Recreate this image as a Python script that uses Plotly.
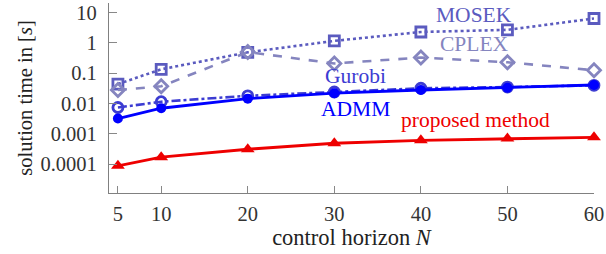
import plotly.graph_objects as go

N = [5, 10, 20, 30, 40, 50, 60]
mosek = [0.044, 0.135, 0.49, 1.17, 2.3, 2.7, 6.4]
cplex = [0.028, 0.037, 0.5, 0.21, 0.33, 0.23, 0.125]
gurobi = [0.0074, 0.0115, 0.018, 0.024, 0.032, 0.035, 0.04]
admm = [0.0032, 0.007, 0.0145, 0.022, 0.028, 0.033, 0.041]
proposed = [0.000088, 0.00017, 0.00031, 0.00049, 0.00061, 0.0007, 0.00077]

ytickvals = [0.0001, 0.001, 0.01, 0.1, 1, 10]
yticktext = ["0.0001", "0.001", "0.01", "0.1", "1", "10"]
xtickvals = [5, 10, 20, 30, 40, 50, 60]

C_MOSEK = "#5b5bbf"
C_CPLEX = "#8585bf"
C_GUROBI = "#3c3cd2"
C_ADMM = "#0000ff"
C_PROP = "#ee0000"

FONT = "Liberation Serif"

fig = go.Figure()
fig.add_trace(go.Scatter(x=N, y=mosek, mode="lines+markers", cliponaxis=False,
    line=dict(color=C_MOSEK, width=2.6, dash="dot"),
    marker=dict(symbol="square-open", size=10, color=C_MOSEK, line=dict(width=2.8, color=C_MOSEK))))
fig.add_trace(go.Scatter(x=N, y=cplex, mode="lines+markers", cliponaxis=False,
    line=dict(color=C_CPLEX, width=2.6, dash="dash"),
    marker=dict(symbol="diamond-open", size=10, color=C_CPLEX, line=dict(width=2.8, color=C_CPLEX))))
fig.add_trace(go.Scatter(x=N, y=gurobi, mode="lines+markers", cliponaxis=False,
    line=dict(color=C_GUROBI, width=2.6, dash="dashdot"),
    marker=dict(symbol="circle-open", size=10, color=C_GUROBI, line=dict(width=2.8, color=C_GUROBI))))
fig.add_trace(go.Scatter(x=N, y=admm, mode="lines+markers", cliponaxis=False,
    line=dict(color=C_ADMM, width=2.8),
    marker=dict(symbol="circle", size=10, color=C_ADMM)))
fig.add_trace(go.Scatter(x=N, y=proposed, mode="lines+markers", cliponaxis=False,
    line=dict(color=C_PROP, width=2.8),
    marker=dict(symbol="triangle-up", size=12, color=C_PROP)))

labels = [
    ("MOSEK", 0.753, 0.937, C_MOSEK),
    ("CPLEX", 0.753, 0.785, C_CPLEX),
    ("Gurobi", 0.509, 0.618, C_GUROBI),
    ("ADMM", 0.509, 0.44, C_ADMM),
    ("proposed method", 0.755, 0.382, C_PROP),
]
for t, x, y, c in labels:
    fig.add_annotation(text=t, x=x, y=y, xref="paper", yref="paper",
                       showarrow=False, font=dict(family=FONT, size=21.5, color=c),
                       xanchor="center", yanchor="middle")

fig.update_layout(
    width=606, height=254,
    margin=dict(l=109, r=10, t=2, b=61),
    plot_bgcolor="white", paper_bgcolor="white",
    showlegend=False,
    font=dict(family=FONT, size=20, color="#333333"),
)
fig.update_xaxes(range=[3.97, 60], tickvals=xtickvals, ticks="inside", ticklen=7,
                 tickcolor="#888888", tickwidth=1.2, showline=True, linecolor="#808080",
                 linewidth=1.3, showgrid=False, zeroline=False, ticklabelstandoff=2,
                 tickfont=dict(size=20.5), ticklabeloverflow="allow",
                 title=dict(text="control horizon <i>N</i>", standoff=4,
                            font=dict(family=FONT, size=22.5, color="#222222")))
fig.update_yaxes(type="log", range=[-4.952, 1.318], tickvals=ytickvals, ticktext=yticktext,
                 ticks="inside", ticklen=8, tickcolor="#888888", tickwidth=1.2,
                 showline=True, linecolor="#808080", linewidth=1.3, showgrid=False,
                 zeroline=False, ticklabelstandoff=7, tickfont=dict(size=20.5),
                 ticklabeloverflow="allow",
                 title=dict(text="solution time in [<i>s</i>]", standoff=2,
                            font=dict(family=FONT, size=20.5, color="#222222")))

fig.write_html("out.html", config={"displayModeBar": False},
               post_script="document.body.style.margin='0';document.body.style.overflow='hidden';")
